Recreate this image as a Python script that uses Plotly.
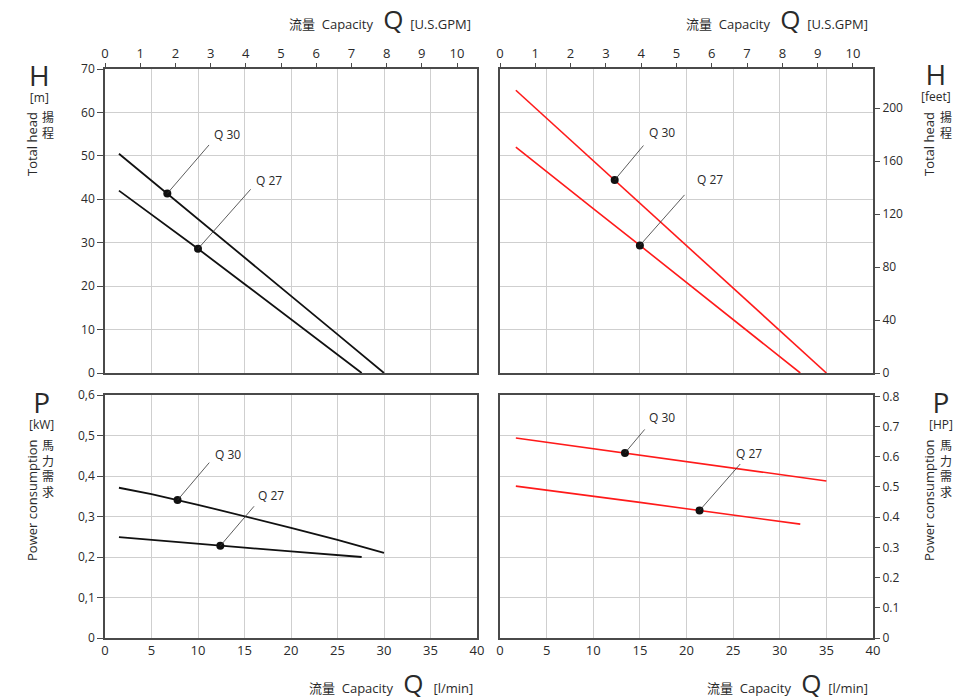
import plotly.graph_objects as go

W, H = 968, 700
LPM_PER_GPM = 3.785
FT_PER_M = 3.2808
HP_PER_KW = 1.341

# ---- data (x in l/min) ----
q30_head_lpm = [1.5, 5, 10, 15, 20, 25, 30]
q30_head_m = [50.5, 44.3, 35.6, 26.8, 17.9, 8.9, 0.0]
q27_head_lpm = [1.5, 5, 10, 15, 20, 25, 27.6]
q27_head_m = [42.0, 36.5, 28.6, 20.5, 12.3, 4.2, 0.0]

q30_head60_lpm = [1.7, 5, 10, 15, 20, 25, 30, 35]
q30_head60_ft = [213.6, 192.5, 160.5, 128.5, 96.5, 64.5, 32.3, 0.0]
q27_head60_lpm = [1.7, 5, 10, 15, 20, 25, 30, 32.2]
q27_head60_ft = [170.6, 152.0, 124.2, 96.4, 68.5, 40.6, 12.5, 0.0]

q30_pow_lpm = [1.5, 5, 10, 15, 20, 25, 30]
q30_pow_kw = [0.371, 0.355, 0.329, 0.301, 0.272, 0.242, 0.210]
q27_pow_lpm = [1.5, 5, 10, 15, 20, 25, 27.6]
q27_pow_kw = [0.249, 0.242, 0.232, 0.223, 0.214, 0.205, 0.200]

q30_pow60_lpm = [1.7, 5, 10, 15, 20, 25, 30, 35]
q30_pow60_hp = [0.662, 0.648, 0.627, 0.606, 0.585, 0.563, 0.541, 0.520]
q27_pow60_lpm = [1.7, 5, 10, 15, 20, 25, 30, 32.2]
q27_pow60_hp = [0.503, 0.490, 0.470, 0.449, 0.428, 0.407, 0.386, 0.377]

# marked points (l/min)
dot_head_q30, dot_head_q27 = 6.7, 10.0
dot_head60_q30, dot_head60_q27 = 12.3, 15.0
dot_pow_q30, dot_pow_q27 = 7.8, 12.4
dot_pow60_q30, dot_pow60_q27 = 13.4, 21.4

gpm_ticks = list(range(0, 11))
lpm_ticks = list(range(0, 41, 5))
m_ticks = list(range(0, 71, 10))
ft_ticks = list(range(0, 201, 40))
kw_ticks = [0, 0.1, 0.2, 0.3, 0.4, 0.5, 0.6]
kw_labels = ["0", "0,1", "0,2", "0,3", "0,4", "0,5", "0,6"]
hp_ticks = [0, 0.1, 0.2, 0.3, 0.4, 0.5, 0.6, 0.7, 0.8]
hp_labels = ["0", "0.1", "0.2", "0.3", "0.4", "0.5", "0.6", "0.7", "0.8"]


def interp(xs, ys, x):
    for i in range(len(xs) - 1):
        if xs[i] <= x <= xs[i + 1]:
            t = (x - xs[i]) / (xs[i + 1] - xs[i])
            return ys[i] + t * (ys[i + 1] - ys[i])
    return ys[-1]


def px(x):
    return x / W


def py(y):
    return 1 - y / H


FONT = "Open Sans, Noto Sans CJK SC, sans-serif"
TXT = "#2a2a2a"
AX = "#4a4a4a"
GRID = "#cfcfcf"
RED = "#ff1a1a"

XL = [px(105), px(477)]
XR = [px(500), px(873)]
YT = [py(373), py(69)]
YB = [py(638), py(395)]

fig = go.Figure()

black_line = dict(color="#111111", width=1.8)
red_line = dict(color=RED, width=1.6)

fig.add_trace(go.Scatter(x=q30_head_lpm, y=q30_head_m, mode="lines", line=black_line, xaxis="x", yaxis="y"))
fig.add_trace(go.Scatter(x=q27_head_lpm, y=q27_head_m, mode="lines", line=black_line, xaxis="x", yaxis="y"))
fig.add_trace(go.Scatter(x=q30_head60_lpm, y=q30_head60_ft, mode="lines", line=red_line, xaxis="x3", yaxis="y3"))
fig.add_trace(go.Scatter(x=q27_head60_lpm, y=q27_head60_ft, mode="lines", line=red_line, xaxis="x3", yaxis="y3"))
fig.add_trace(go.Scatter(x=q30_pow_lpm, y=q30_pow_kw, mode="lines", line=black_line, xaxis="x5", yaxis="y4"))
fig.add_trace(go.Scatter(x=q27_pow_lpm, y=q27_pow_kw, mode="lines", line=black_line, xaxis="x5", yaxis="y4"))
fig.add_trace(go.Scatter(x=q30_pow60_lpm, y=q30_pow60_hp, mode="lines", line=red_line, xaxis="x6", yaxis="y6"))
fig.add_trace(go.Scatter(x=q27_pow60_lpm, y=q27_pow60_hp, mode="lines", line=red_line, xaxis="x6", yaxis="y6"))

# empty traces so that the overlay / grid axes are built
fig.add_trace(go.Scatter(x=[], y=[], xaxis="x2", yaxis="y"))
fig.add_trace(go.Scatter(x=[], y=[], xaxis="x3", yaxis="y2"))
fig.add_trace(go.Scatter(x=[], y=[], xaxis="x4", yaxis="y2"))
fig.add_trace(go.Scatter(x=[], y=[], xaxis="x6", yaxis="y5"))

annotations = []

# (curve xs, ys, dot q, xaxis, yaxis, ax, ay, label, xshift, yshift)
markers = [
    (q30_head_lpm, q30_head_m, dot_head_q30, "x", "y", 43, -50, "Q 30", 60, 59),
    (q27_head_lpm, q27_head_m, dot_head_q27, "x", "y", 54, -61, "Q 27", 71, 68),
    (q30_head60_lpm, q30_head60_ft, dot_head60_q30, "x3", "y3", 30, -36, "Q 30", 47, 48),
    (q27_head60_lpm, q27_head60_ft, dot_head60_q27, "x3", "y3", 46, -52, "Q 27", 70, 66),
    (q30_pow_lpm, q30_pow_kw, dot_pow_q30, "x5", "y4", 33, -39, "Q 30", 50, 46),
    (q27_pow_lpm, q27_pow_kw, dot_pow_q27, "x5", "y4", 35, -41, "Q 27", 51, 50),
    (q30_pow60_lpm, q30_pow60_hp, dot_pow60_q30, "x6", "y6", 21, -25, "Q 30", 37, 35),
    (q27_pow60_lpm, q27_pow60_hp, dot_pow60_q27, "x6", "y6", 42, -48, "Q 27", 49, 57),
]
for xs, ys, q, xa, ya, ax, ay, lab, xs_, ys_ in markers:
    yv = interp(xs, ys, q)
    fig.add_trace(go.Scatter(x=[q], y=[yv], mode="markers", marker=dict(color="#111111", size=8),
                             xaxis=xa, yaxis=ya))
    annotations.append(dict(x=q, y=yv, xref=xa, yref=ya, text="", showarrow=True, arrowhead=0,
                            arrowwidth=0.8, arrowcolor="#333333", ax=ax, ay=ay, standoff=0,
                            startstandoff=0))
    annotations.append(dict(x=q, y=yv, xref=xa, yref=ya, text=lab, showarrow=False,
                            xshift=xs_, yshift=ys_, font=dict(size=12, color=TXT, family=FONT)))


def txt(x, y, text, size=14, angle=0, xanchor="center"):
    annotations.append(dict(x=px(x), y=py(y), xref="paper", yref="paper", text=text,
                            showarrow=False, textangle=angle, xanchor=xanchor, yanchor="middle",
                            font=dict(size=size, color=TXT, family=FONT)))


qbig = "<span style='font-size:26px'>Q</span>"
txt(473, 19, "流量  Capacity   " + qbig + "  [U.S.GPM]", 13, xanchor="right")
txt(870, 19, "流量  Capacity   " + qbig + "  [U.S.GPM]", 13, xanchor="right")
txt(475, 683, "流量  Capacity   " + qbig + "   [l/min]", 13, xanchor="right")
txt(870, 683, "流量  Capacity   " + qbig + "  [l/min]", 13, xanchor="right")


def sym(s):
    return "<span style='font-size:28px'>" + s + "</span>"


txt(39, 81, sym("H") + "<br>[m]", 12)
txt(32, 144, "Total head", 13, -90)
txt(48, 126, "揚<br>程", 12)

txt(936, 80, sym("H") + "<br>[feet]", 12)
txt(929, 144, "Total head", 13, -90)
txt(946, 126, "揚<br>程", 12)

txt(41, 408, sym("P") + "<br>[kW]", 12)
txt(32, 500, "Power consumption", 13, -90)
txt(48, 469, "馬<br>力<br>需<br>求", 12)

txt(941, 408, sym("P") + "<br>[HP]", 12)
txt(929, 500, "Power consumption", 13, -90)
txt(946, 469, "馬<br>力<br>需<br>求", 12)

tickfont = dict(size=12, color=TXT, family=FONT)
box = dict(showline=True, linecolor=AX, linewidth=1.6, mirror=True)
grid = dict(showgrid=True, gridcolor=GRID, gridwidth=1, zeroline=False, automargin=False)
nogrid = dict(showgrid=False, zeroline=False, showline=False, automargin=False)

fig.update_layout(
    width=W, height=H, margin=dict(l=0, r=0, t=0, b=0, autoexpand=False),
    paper_bgcolor="white", plot_bgcolor="white", showlegend=False,
    annotations=annotations,
    # top-left
    xaxis=dict(domain=XL, anchor="y", range=[0, 40], tickvals=lpm_ticks, showticklabels=False,
               ticks="", **grid, **box),
    xaxis2=dict(overlaying="x", anchor="y", side="top", range=[0, 40 / LPM_PER_GPM],
                tickvals=gpm_ticks, ticks="outside", ticklen=5, tickcolor=AX,
                tickfont=dict(size=13, color=TXT, family=FONT), **nogrid),
    yaxis=dict(domain=YT, anchor="x", range=[0, 70], tickvals=m_ticks, ticks="outside", ticklen=6,
               tickcolor=AX, tickfont=tickfont, **grid, **box),
    # top-right
    xaxis3=dict(domain=XR, anchor="y2", range=[0, 40], tickvals=lpm_ticks, showticklabels=False,
                ticks="", **grid, **box),
    xaxis4=dict(overlaying="x3", anchor="y2", side="top", range=[0, 40 / LPM_PER_GPM],
                tickvals=gpm_ticks, ticks="outside", ticklen=5, tickcolor=AX,
                tickfont=dict(size=13, color=TXT, family=FONT), **nogrid),
    yaxis2=dict(domain=YT, anchor="x3", range=[0, 70], tickvals=m_ticks, showticklabels=False,
                ticks="", **grid, **box),
    yaxis3=dict(overlaying="y2", anchor="x3", side="right", range=[0, 70 * FT_PER_M],
                tickvals=ft_ticks, ticks="outside", ticklen=6, tickcolor=AX, tickfont=tickfont,
                **nogrid),
    # bottom-left
    xaxis5=dict(domain=XL, anchor="y4", range=[0, 40], tickvals=lpm_ticks, ticks="",
                tickfont=dict(size=13, color=TXT, family=FONT), **grid, **box),
    yaxis4=dict(domain=YB, anchor="x5", range=[0, 0.6], tickvals=kw_ticks, ticktext=kw_labels,
                ticks="outside", ticklen=6, tickcolor=AX, tickfont=tickfont, **grid, **box),
    # bottom-right
    xaxis6=dict(domain=XR, anchor="y5", range=[0, 40], tickvals=lpm_ticks, ticks="",
                tickfont=dict(size=13, color=TXT, family=FONT), **grid, **box),
    yaxis5=dict(domain=YB, anchor="x6", range=[0, 0.6], tickvals=kw_ticks, showticklabels=False,
                ticks="", **grid, **box),
    yaxis6=dict(overlaying="y5", anchor="x6", side="right", range=[0, 0.6 * HP_PER_KW],
                tickvals=hp_ticks, ticktext=hp_labels, ticks="outside", ticklen=6, tickcolor=AX,
                tickfont=tickfont, **nogrid),
)

fig.write_html(
    "out.html",
    config={"displayModeBar": False},
    post_script="document.body.style.margin='0';document.body.style.overflow='hidden';",
)
